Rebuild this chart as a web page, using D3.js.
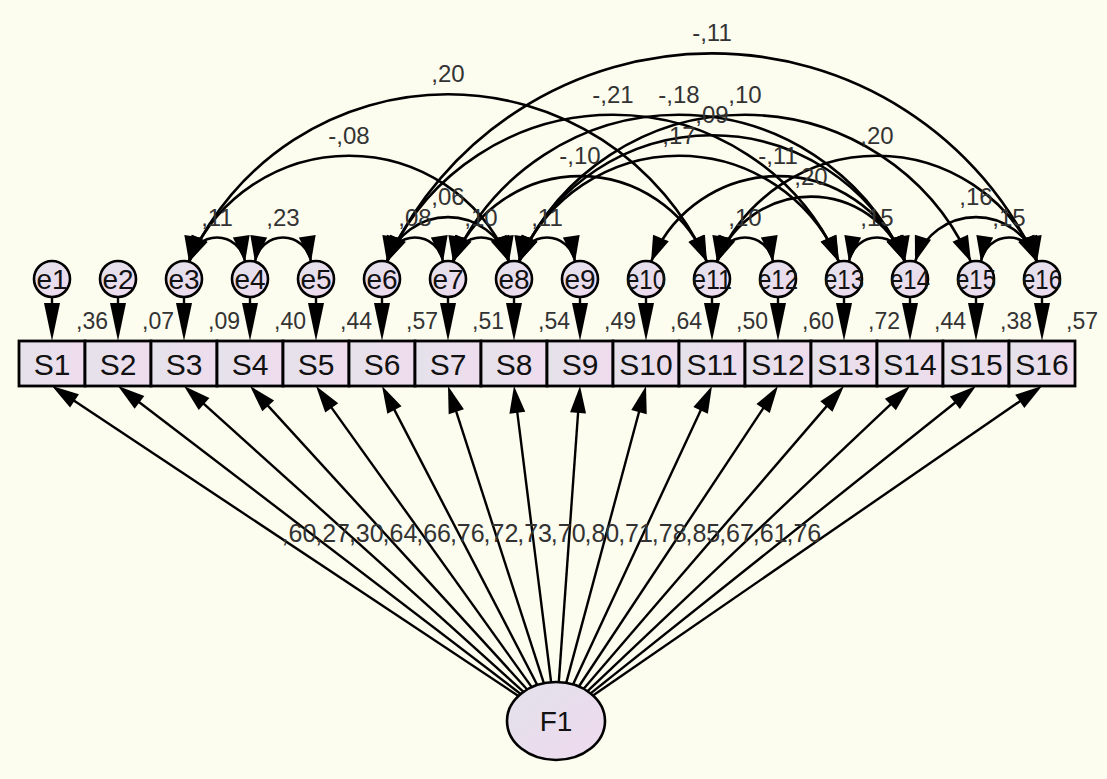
<!DOCTYPE html>
<html>
<head>
<meta charset="utf-8">
<script src="https://cdn.jsdelivr.net/npm/d3@7"></script>
<style>
  body { margin: 0; background: #fcfcef; }
  svg { display: block; font-family: "Liberation Sans", Arial, sans-serif; }
</style>
</head>
<body>
<div id="chart"></div>
<script>
// indicators, their error terms and the estimates
var indicators = ["S1","S2","S3","S4","S5","S6","S7","S8","S9","S10","S11","S12","S13","S14","S15","S16"];
var errors = ["e1","e2","e3","e4","e5","e6","e7","e8","e9","e10","e11","e12","e13","e14","e15","e16"];
var loadings = [0.60,0.27,0.30,0.64,0.66,0.76,0.72,0.73,0.70,0.80,0.71,0.78,0.85,0.67,0.61,0.76];
var rsquared = [0.36,0.07,0.09,0.40,0.44,0.57,0.51,0.54,0.49,0.64,0.50,0.60,0.72,0.44,0.38,0.57];

// error covariances
var covFrom  = ["e3","e4","e3","e3","e6","e6","e7","e8","e6","e6","e7","e8","e8","e7","e8","e10","e11","e11","e11","e13","e14","e15"];
var covTo    = ["e4","e5","e8","e11","e7","e8","e8","e9","e16","e13","e14","e14","e15","e11","e13","e14","e14","e16","e12","e14","e16","e16"];
var covValue = [0.11,0.23,-0.08,0.20,0.08,0.06,0.10,0.11,-0.11,-0.21,-0.18,0.09,0.10,-0.10,0.17,-0.11,0.20,0.20,0.10,0.15,0.16,0.15];

var factor = "F1";

var width = 1107, height = 779;

// AMOS style numbers: ",36"  "-,11"
function amos(v) {
  return d3.format(".2f")(v).replace("0.", ",").replace("−", "-");
}

var svg = d3.select("#chart").append("svg")
    .attr("width", width)
    .attr("height", height);

svg.append("rect").attr("width", width).attr("height", height).attr("fill", "#fcfcef");

var defs = svg.append("defs");
var g1 = defs.append("linearGradient").attr("id", "boxfill").attr("x1", "0").attr("x2", "1");
g1.append("stop").attr("offset", "0").attr("stop-color", "#e4e2ea");
g1.append("stop").attr("offset", "1").attr("stop-color", "#efdcee");
var g2 = defs.append("linearGradient").attr("id", "circfill").attr("x1", "0").attr("x2", "1").attr("y1", "0").attr("y2", "1");
g2.append("stop").attr("offset", "0").attr("stop-color", "#e2e2ea");
g2.append("stop").attr("offset", "1").attr("stop-color", "#efd9ef");

// x positions
var x = d3.scaleBand()
    .domain(indicators)
    .range([19, 1075])
    .padding(0);
var bw = x.bandwidth();
function cx(i) { return x(indicators[i]) + bw / 2; }
var errIndex = {};
errors.forEach(function(e, i) { errIndex[e] = i; });

var boxTop = 341, boxH = 45, boxBottom = boxTop + boxH;
var errY = 279, errR = 18;
var fx = 556, fy = 721, frx = 49, fry = 39;

function arrowHead(sel, tipX, tipY, dirX, dirY, len, half) {
  var n = Math.sqrt(dirX * dirX + dirY * dirY);
  var ux = dirX / n, uy = dirY / n;
  var bx = tipX - ux * len, by = tipY - uy * len;
  var pts = [[tipX, tipY], [bx - uy * half, by + ux * half], [bx + uy * half, by - ux * half]];
  sel.append("polygon")
    .attr("points", pts.map(function(p) { return p.join(","); }).join(" "))
    .attr("fill", "#000");
}

// covariance arcs
var arcs = svg.append("g");
var covLabels = [];
covFrom.forEach(function(f, k) {
  var i = errIndex[f], j = errIndex[covTo[k]];
  var x1 = cx(i) + 5, x2 = cx(j) - 5, y0 = errY - errR + 1;
  var c = x2 - x1;
  var s = 0.31 * (cx(j) - cx(i)) + 4;
  var r = (c * c / 4 + s * s) / (2 * s);
  var ccx = (x1 + x2) / 2, ccy = y0 - s + r;
  arcs.append("path")
    .attr("d", "M" + x1 + "," + y0 + " A" + r + "," + r + " 0 0 1 " + x2 + "," + y0)
    .attr("fill", "none")
    .attr("stroke", "#000")
    .attr("stroke-width", 2.6);
  var t1 = Math.atan2(y0 - ccy, x1 - ccx), t2 = Math.atan2(y0 - ccy, x2 - ccx);
  var d = 0.02;
  var p1 = [ccx + r * Math.cos(t1 + d), ccy + r * Math.sin(t1 + d)];
  var p2 = [ccx + r * Math.cos(t2 - d), ccy + r * Math.sin(t2 - d)];
  arrowHead(arcs, x1, y0, x1 - p1[0], y0 - p1[1], 26, 8.5);
  arrowHead(arcs, x2, y0, x2 - p2[0], y0 - p2[1], 26, 8.5);
  covLabels.push({x: ccx, y: y0 - s - 12, t: amos(covValue[k])});
});

// loadings from F1
var paths = svg.append("g");
indicators.forEach(function(name, i) {
  var tx = cx(i), ty = boxBottom;
  var dx = tx - fx, dy = ty - fy;
  var t = 1 / Math.sqrt((dx / frx) * (dx / frx) + (dy / fry) * (dy / fry));
  var sx = fx + dx * t, sy = fy + dy * t;
  paths.append("line")
    .attr("x1", sx).attr("y1", sy)
    .attr("x2", tx - (dx / Math.hypot(dx, dy)) * 14).attr("y2", ty - (dy / Math.hypot(dx, dy)) * 14)
    .attr("stroke", "#000")
    .attr("stroke-width", 2.4);
  arrowHead(paths, tx, ty, dx, dy, 27, 8);
});

// error -> indicator arrows
indicators.forEach(function(name, i) {
  paths.append("line")
    .attr("x1", cx(i)).attr("y1", errY + errR)
    .attr("x2", cx(i)).attr("y2", boxTop - 10)
    .attr("stroke", "#000").attr("stroke-width", 2.4);
  arrowHead(paths, cx(i), boxTop, 0, 1, 38, 8);
});

// error circles
var ec = svg.append("g").selectAll("g").data(errors).enter().append("g");
ec.append("circle")
  .attr("cx", function(d, i) { return cx(i); })
  .attr("cy", errY)
  .attr("r", errR)
  .attr("fill", "url(#circfill)")
  .attr("stroke", "#000")
  .attr("stroke-width", 2.6);
ec.append("text")
  .attr("x", function(d, i) { return cx(i); })
  .attr("y", errY + 10)
  .attr("text-anchor", "middle")
  .attr("font-size", 28)
  .attr("fill", "#111")
  .attr("textLength", function(d) { return d.length > 2 ? 40 : null; })
  .attr("lengthAdjust", "spacingAndGlyphs")
  .text(function(d) { return d; });

// indicator boxes
var bx = svg.append("g").selectAll("g").data(indicators).enter().append("g");
bx.append("rect")
  .attr("x", function(d) { return x(d); })
  .attr("y", boxTop)
  .attr("width", bw)
  .attr("height", boxH)
  .attr("fill", "url(#boxfill)")
  .attr("stroke", "#000")
  .attr("stroke-width", 2.8);
bx.append("text")
  .attr("x", function(d) { return x(d) + bw / 2; })
  .attr("y", boxTop + 34)
  .attr("text-anchor", "middle")
  .attr("font-size", 30)
  .attr("fill", "#111")
  .text(function(d) { return d; });

// R squared labels
svg.append("g").selectAll("text").data(rsquared).enter().append("text")
  .attr("x", function(d, i) { return cx(i) + 24; })
  .attr("y", 329)
  .attr("font-size", 23)
  .attr("fill", "#333")
  .text(function(d) { return amos(d); });

// loading labels
svg.append("g").selectAll("text").data(loadings).enter().append("text")
  .attr("x", function(d, i) { return fx + (cx(i) - fx) * 0.51; })
  .attr("y", 542)
  .attr("text-anchor", "middle")
  .attr("font-size", 25)
  .attr("fill", "#333")
  .text(function(d) { return amos(d); });

// covariance labels
svg.append("g").selectAll("text").data(covLabels).enter().append("text")
  .attr("x", function(d) { return d.x; })
  .attr("y", function(d) { return d.y; })
  .attr("text-anchor", "middle")
  .attr("font-size", 24)
  .attr("fill", "#333")
  .text(function(d) { return d.t; });

// factor
svg.append("ellipse")
  .attr("cx", fx).attr("cy", fy)
  .attr("rx", frx).attr("ry", fry)
  .attr("fill", "url(#circfill)")
  .attr("stroke", "#000")
  .attr("stroke-width", 2.6);
svg.append("text")
  .attr("x", fx).attr("y", fy + 10)
  .attr("text-anchor", "middle")
  .attr("font-size", 28)
  .attr("fill", "#111")
  .text(factor);
</script>
</body>
</html>
